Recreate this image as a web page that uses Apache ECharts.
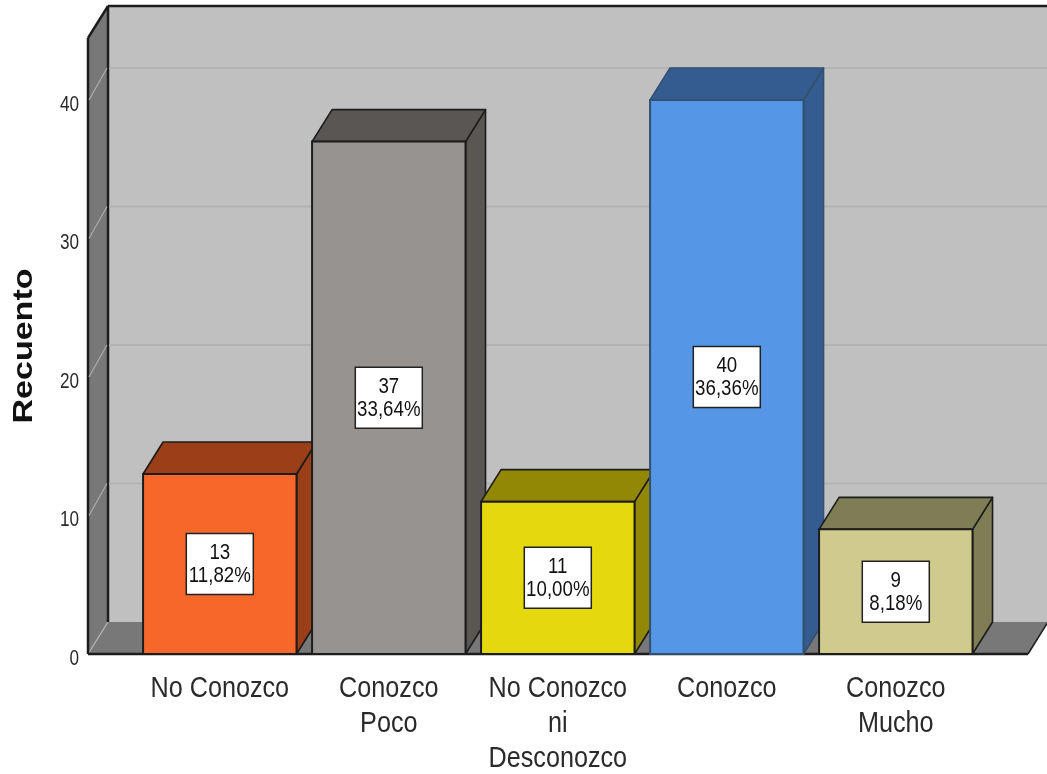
<!DOCTYPE html>
<html>
<head>
<meta charset="utf-8">
<style>html,body{margin:0;padding:0;background:#fff}#c{width:1047px;height:774px}</style>
<script src="https://cdn.jsdelivr.net/npm/echarts@6/dist/echarts.min.js"></script>
</head>
<body>
<div id="c"></div>
<script>
const categories = ['No Conozco', 'Conozco\nPoco', 'No Conozco\nni\nDesconozco', 'Conozco', 'Conozco\nMucho'];
const counts = [13, 37, 11, 40, 9];
const percents = ['11,82%', '33,64%', '10,00%', '36,36%', '8,18%'];
const tickValues = [0, 10, 20, 30, 40];
const axisTitle = 'Recuento';
const frontColors = ['#F5682A', '#979391', '#E5D90E', '#5596E6', '#D0CB8D'];
const darkColors = ['#9A3F17', '#5A5654', '#928806', '#345C90', '#7F7D56'];
const edgeColors = ['#1c1c1c', '#1c1c1c', '#1c1c1c', '#33506f', '#1c1c1c'];

const FONT = '"Liberation Sans",Arial,sans-serif';
const DX = 20, DY = -32, SIDE_L = 47.3, SIDE_R = 47.7, EDGE = '#1c1c1c';

function poly(points, fill, stroke, w) {
  return {type: 'polygon', shape: {points}, style: {fill, stroke: stroke || 'none', lineWidth: w || 0, lineJoin: 'round'}};
}
function seg(x1, y1, x2, y2, stroke, w) {
  return {type: 'line', shape: {x1, y1, x2, y2}, style: {stroke, lineWidth: w}};
}
function label(text, x, y, size, scaleX, align, vAlign, color, lineHeight) {
  return {type: 'text', x, y, scaleX, style: {
    text, fill: color, font: size + 'px ' + FONT, align, verticalAlign: vAlign, lineHeight}};
}

function renderFrame(params, api) {
  const cs = params.coordSys;
  const x0 = cs.x - SIDE_L, x1 = cs.x + cs.width + SIDE_R;
  const yb = cs.y + cs.height, yt = cs.y;
  const y = api.coord([0, api.value(1)])[1];
  const ch = [];
  if (params.dataIndex === 0) {
    ch.push(poly([[x0 + DX, yt + DY], [x1 + DX, yt + DY], [x1 + DX, yb + DY], [x0 + DX, yb + DY]], '#C0C0C0'));
    ch.push(poly([[x0, yt], [x0 + DX, yt + DY], [x0 + DX, yb + DY], [x0, yb]], '#787878'));
    ch.push(poly([[x0, yb], [x0 + DX, yb + DY], [x1 + DX, yb + DY], [x1, yb]], '#787878'));
    ch.push(seg(x0, yb, x0 + DX, yb + DY, '#B4B4B4', 1.2));
    ch.push(seg(x0, yt, x0, yb, EDGE, 2.5));
    ch.push(seg(x0 + DX, yt + DY, x0 + DX, yb + DY, EDGE, 2.5));
    ch.push(seg(x0, yt, x0 + DX, yt + DY, EDGE, 2.5));
    ch.push(seg(x0 + DX, yt + DY, x1 + DX, yt + DY, EDGE, 2.5));
    ch.push(seg(x0, yb, x1, yb, EDGE, 2.5));
    ch.push(seg(x1, yb, x1 + DX, yb + DY, EDGE, 1.5));
    ch.push({type: 'text', x: x0 - 63.5, y: (yt + yb) / 2, rotation: Math.PI / 2, scaleX: 1.26, style: {
      text: axisTitle, fill: '#111', font: 'bold 27px ' + FONT, align: 'center', verticalAlign: 'middle'}});
  } else {
    ch.push(seg(x0 + 1, y, x0 + DX - 1, y + DY, '#ABABAB', 1.2));
    ch.push(seg(x0 + DX + 1, y + DY, x1 + DX, y + DY, '#B2B2B2', 2));
  }
  ch.push(label(String(api.value(1)), x0 - 9, y + 4.5, 22, 0.78, 'right', 'middle', '#2a2a2a'));
  return {type: 'group', children: ch};
}

function renderCategory(params, api) {
  const p = api.coord([api.value(0), 0]);
  return label(categories[params.dataIndex], p[0], p[1] + 17.5, 30, 0.84, 'center', 'top', '#2a2a2a', 35);
}

function renderBar(params, api) {
  const i = params.dataIndex;
  const c = api.coord([api.value(0), api.value(1)]);
  const b = api.coord([api.value(0), 0]);
  const w = api.size([1, 0])[0] * 0.908;
  const l = c[0] - w / 2, r = c[0] + w / 2, t = c[1], bt = b[1];
  const e = edgeColors[i];
  const my = (t + bt) / 2;
  return {type: 'group', children: [
    poly([[r, t], [r + DX, t + DY], [r + DX, bt + DY], [r, bt]], darkColors[i], e, 1.6),
    poly([[l, t], [l + DX, t + DY], [r + DX, t + DY], [r, t]], darkColors[i], e, 1.6),
    {type: 'rect', shape: {x: l, y: t, width: w, height: bt - t}, style: {fill: frontColors[i], stroke: e, lineWidth: 2}},
    {type: 'rect', shape: {x: c[0] - 33.5, y: my - 30.5, width: 67, height: 61}, style: {fill: '#fff', stroke: '#222', lineWidth: 1.5}},
    label(counts[i] + '\n' + percents[i], c[0], my + 0.5, 22, 0.85, 'center', 'middle', '#111', 23)
  ]};
}

const chart = echarts.init(document.getElementById('c'), null, {renderer: 'canvas'});
chart.setOption({
  animation: false,
  backgroundColor: '#fff',
  grid: {left: 135.3, width: 845, top: 38, height: 616},
  xAxis: {type: 'category', data: categories, axisLine: {show: false}, axisTick: {show: false}, axisLabel: {show: false}},
  yAxis: {type: 'value', min: 0, max: 44.48, interval: 10, axisLine: {show: false}, axisTick: {show: false}, splitLine: {show: false}, axisLabel: {show: false}},
  series: [
    {type: 'custom', name: 'frame', silent: true, z: 1, clip: false, renderItem: renderFrame,
     encode: {x: 0, y: 1}, data: tickValues.map(v => [0, v])},
    {type: 'custom', name: 'categories', silent: true, z: 1, clip: false, renderItem: renderCategory,
     encode: {x: 0}, data: categories.map((c, i) => [i, 0])},
    {type: 'custom', name: 'Recuento', z: 2, clip: false, renderItem: renderBar,
     encode: {x: 0, y: 1}, data: counts.map((v, i) => [i, v])}
  ]
});
</script>
</body>
</html>
